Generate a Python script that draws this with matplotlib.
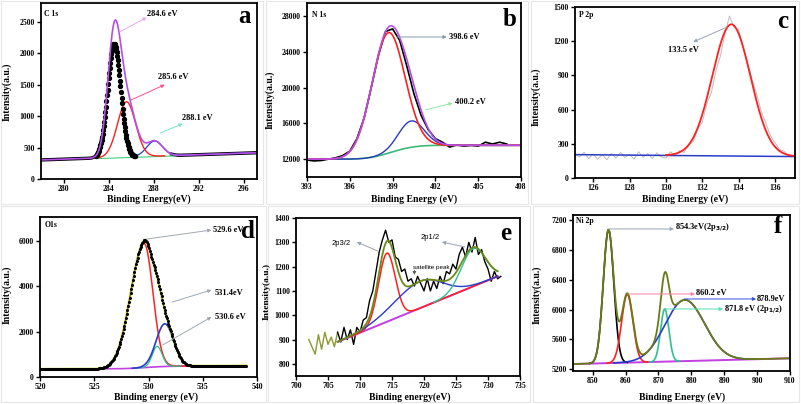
import numpy as np
import matplotlib
matplotlib.use('Agg')
import matplotlib.pyplot as plt
from matplotlib.patches import Rectangle

W, H = 801, 404

# ---------------- a : C 1s ----------------
c1s_xlim = (278.0, 297.2)
c1s_ylim = (0, 2800)
c1s_bg = (303, 418)                 # linear background at the two x limits
c1s_center = [284.5, 285.6, 288.1]
c1s_height = [1810, 880, 240]
c1s_sigma = [0.58, 0.8, 0.7]

# ---------------- b : N 1s ----------------
n1s_xlim = (393, 408)
n1s_ylim = (10000, 29500)
n1s_step = (12000, 13550)           # step background low / high side
n1s_center = [398.7, 400.3]
n1s_height = [13500, 2950]
n1s_sigma = [1.15, 0.9]
n1s_raw_x = [393, 393.5, 394, 394.5, 395, 395.5, 396, 396.5, 397, 397.5,
             398, 398.5, 399, 399.5, 400, 400.5, 401, 401.5, 402, 402.5,
             403, 403.5, 404, 404.5, 405, 405.5, 406, 406.5, 407]
n1s_raw_y = [11900, 11800, 11850, 12000, 12150, 12400, 12900, 14300, 16600, 20000,
             23600, 26300, 26600, 25300, 22400, 19300, 16900, 15300, 14300, 13900,
             13350, 13600, 13450, 13550, 13450, 13900, 13700, 13900, 13700]

# ---------------- c : P 2p ----------------
p2p_xlim = (125, 137.1)
p2p_ylim = (0, 1500)
p2p_bg = (205, 188)
p2p_center = 133.6
p2p_height = 1155
p2p_sigma = 1.05
p2p_raw_x = [125.0, 125.25, 125.5, 125.75, 126.0, 126.25, 126.5, 126.75, 127.0, 127.25,
             127.5, 127.75, 128.0, 128.25, 128.5, 128.75, 129.0, 129.25, 129.5, 129.75,
             130.0, 130.25, 130.5, 130.75, 131.0, 131.25, 131.5, 131.75, 132.0, 132.25,
             132.5, 132.75, 133.0, 133.25, 133.5, 133.75, 134.0, 134.25, 134.5, 134.75,
             135.0, 135.25, 135.5, 135.75, 136.0, 136.25, 136.5, 136.75, 137.0]
p2p_raw_y = [215, 185, 225, 170, 210, 165, 205, 160, 215, 175,
             225, 180, 210, 165, 230, 180, 215, 170, 220, 185,
             175, 230, 195, 240, 225, 290, 320, 430, 490, 650,
             750, 940, 1070, 1270, 1420, 1320, 1300, 1150, 1010, 860,
             730, 580, 480, 370, 310, 250, 235, 190, 200]

# ---------------- d : O 1s ----------------
o1s_xlim = (520, 540)
o1s_ylim = (0, 7050)
o1s_bg = (340, 3.0, 100)            # offset, slope per eV, step height
o1s_center = [529.6, 530.8, 531.5]
o1s_height = [5470, 900, 1880]
o1s_sigma_lo = [1.25, 0.45, 0.8]
o1s_sigma_hi = [0.8, 0.45, 0.8]

# ---------------- e : Fe 2p ----------------
fe_xlim = (700, 735)
fe_ylim = (750, 1400)
fe_base = ((706.5, 890), (731.5, 1160))
fe_center = [714.2, 719.5, 727.7]
fe_height = [282, 110, 155]
fe_sigma_lo = [1.3, 4.2, 1.9]
fe_sigma_hi = [1.3, 3.4, 1.9]
fe_raw_x = [702.0, 702.5, 703.0, 703.5, 704.0, 704.5, 705.0, 705.5, 706.0, 706.5,
            707.0, 707.5, 708.0, 708.5, 709.0, 709.5, 710.0, 710.5, 711.0, 711.5,
            712.0, 712.5, 713.0, 713.5, 714.0, 714.5, 715.0, 715.5, 716.0, 716.5,
            717.0, 717.5, 718.0, 718.5, 719.0, 719.5, 720.0, 720.5, 721.0, 721.5,
            722.0, 722.5, 723.0, 723.5, 724.0, 724.5, 725.0, 725.5, 726.0, 726.5,
            727.0, 727.5, 728.0, 728.5, 729.0, 729.5, 730.0, 730.5, 731.0, 731.5, 732.0]
fe_raw_y = [900, 870, 840, 920, 860, 930, 880, 910, 870, 930,
            890, 950, 900, 940, 880, 950, 930, 980, 990, 1060,
            1100, 1180, 1260, 1310, 1350, 1300, 1310, 1240, 1230, 1180,
            1190, 1140, 1150, 1120, 1160, 1130, 1100, 1150, 1100, 1140,
            1110, 1160, 1130, 1180, 1170, 1210, 1190, 1250, 1280, 1240,
            1300, 1260, 1320, 1250, 1270, 1220, 1190, 1140, 1180, 1150, 1160]

# ---------------- f : Ni 2p ----------------
ni_xlim = (844, 910)
ni_ylim = (5177, 7267)
ni_bg = (5270, 5347)
ni_center = [854.8, 860.5, 871.9, 878.0]
ni_height = [1785, 915, 705, 820]
ni_sigma = [1.6, 1.7, 1.25, 6.0]

SERIF = ['Liberation Serif', 'DejaVu Serif']
plt.rcParams['font.family'] = SERIF
plt.rcParams['font.weight'] = 'bold'
plt.rcParams['axes.linewidth'] = 1.3


def peak(x, c, h, s_lo, s_hi=None):
    s_hi = s_lo if s_hi is None else s_hi
    s = np.where(x < c, s_lo, s_hi)
    return h * np.exp(-0.5 * ((x - c) / s) ** 2)


def step_bg(total):
    cum = np.cumsum(total)
    return cum / cum[-1]


def add_ax(l, t, r, b):
    return fig.add_axes([l / W, 1 - b / H, (r - l) / W, (b - t) / H])


def style(ax, xlim, ylim, xticks, yticks):
    ax.set_xlim(*xlim)
    ax.set_ylim(*ylim)
    ax.set_xticks(xticks)
    ax.set_yticks(yticks)
    ax.tick_params(direction='out', length=3, width=1, labelsize=5.6, pad=1.5)
    for lab in ax.get_xticklabels() + ax.get_yticklabels():
        lab.set_fontweight('bold')


def arrow(ax, tail, head, color, lw=0.7):
    ax.annotate('', xy=head, xytext=tail,
                arrowprops=dict(arrowstyle='-|>', color=color, lw=lw,
                                mutation_scale=5, shrinkA=0, shrinkB=0))


def ftext(x, y, s, rot=0, size=7):
    fig.text(x / W, 1 - y / H, s, rotation=rot, ha='center', va='center',
             fontsize=size, fontweight='bold')


fig = plt.figure(figsize=(W / 100, H / 100), dpi=100)

# faint sub-figure frames
for (l, t, r, b) in [(1, 1, 263, 204), (266, 1, 528, 204), (531, 1, 799, 204),
                     (1, 206, 266, 402), (268, 206, 530, 402), (533, 206, 799, 402)]:
    fig.patches.append(Rectangle((l / W, 1 - b / H), (r - l) / W, (b - t) / H,
                                 transform=fig.transFigure, fill=False,
                                 ec='#e6e6e6', lw=0.8))

# ================= a =================
ax = add_ax(41, 3, 257, 179)
x = np.linspace(c1s_xlim[0], c1s_xlim[1], 800)
bg = c1s_bg[0] + (c1s_bg[1] - c1s_bg[0]) * (x - x[0]) / (x[-1] - x[0])
comps = [peak(x, c, h, s) for c, h, s in zip(c1s_center, c1s_height, c1s_sigma)]
env = bg + sum(comps)
ax.plot(x, np.where((x < 283.4) | (x > 289.6), env, np.nan), color='black', lw=2.4)
m = (x > 283) & (x < 290)
ax.plot(x[m], bg[m] - 8, color='#40d080', lw=0.8)
m = (x > 286) & (x < 297)
ax.plot(x[m], bg[m] + 2 + comps[2][m], color='#2040c0', lw=0.9)
m = (x > 283) & (x < 289)
ax.plot(x[m], bg[m] + comps[1][m], color='#ff2020', lw=1.0)
m = (x > 282.9) & (x < 286.4)
ax.plot(x[m][::2], (bg + comps[0])[m][::2], 'o', color='black', ms=2.8)
ax.plot(x, env, color='#b44fe6', lw=1.2)
style(ax, c1s_xlim, c1s_ylim, range(280, 297, 4), range(0, 2501, 500))
arrow(ax, (285.0, 2340), (287.4, 2570), '#e9a6f2')
arrow(ax, (286.0, 1257), (289.0, 1500), '#ff4f8f')
arrow(ax, (288.6, 732), (290.6, 880), '#78e4c4')
ax.text(287.4, 2625, '284.6 eV', fontsize=6, va='center')
ax.text(288.4, 1623, '285.6 eV', fontsize=6, va='center')
ax.text(290.5, 970, '288.1 eV', fontsize=6, va='center')
ax.text(296.1, 2590, 'a', fontsize=18, ha='center', va='center')
ax.text(278.3, 2620, 'C 1s', fontsize=5.5, va='center')
ftext(7, 92, 'Intensity(a.u.)', rot=90)
ftext(149, 199, 'Binding Energy(eV)')

# ================= b =================
ax = add_ax(307, 3, 521, 177)
x = np.linspace(n1s_xlim[0], n1s_xlim[1], 800)
comps = [peak(x, c, h, s) for c, h, s in zip(n1s_center, n1s_height, n1s_sigma)]
bg = n1s_step[0] + (n1s_step[1] - n1s_step[0]) * step_bg(sum(comps))
env = bg + sum(comps)
ax.plot(n1s_raw_x, n1s_raw_y, color='black', lw=1.2)
ax.plot(x, bg, color='#3cb878', lw=1.2)
ax.plot(x, bg + comps[1], color='#2a3cb8', lw=1.0)
ax.plot(x, bg + comps[0], color='#ff2020', lw=1.2)
ax.plot(x, env, color='#b44fe6', lw=1.2)
style(ax, n1s_xlim, n1s_ylim, range(393, 409, 3), range(12000, 28001, 4000))
arrow(ax, (399.3, 25690), (402.8, 25690), '#8a98a8')
arrow(ax, (401.3, 17510), (403.2, 18290), '#90eaa8')
ax.text(402.95, 25690, '398.6 eV', fontsize=6, va='center')
ax.text(403.4, 18405, '400.2 eV', fontsize=6, va='center')
ax.text(407.2, 27650, 'b', fontsize=18, ha='center', va='center')
ax.text(393.35, 28150, 'N 1s', fontsize=5.5, va='center')
ftext(270, 100, 'Intensity(a.u.)', rot=90)
ftext(414, 199, 'Binding Energy (eV)')

# ================= c =================
ax = add_ax(575, 7, 795, 178)
x = np.linspace(p2p_xlim[0], p2p_xlim[1], 800)
bg = p2p_bg[0] + (p2p_bg[1] - p2p_bg[0]) * (x - x[0]) / (x[-1] - x[0])
ax.plot(p2p_raw_x, p2p_raw_y, color='#bdbdbd', lw=0.7)
ax.plot(x, bg, color='#2a3cc8', lw=1.1)
m = x > 130
ax.plot(x[m], bg[m] + peak(x[m], p2p_center, p2p_height, p2p_sigma),
        color='#ff2020', lw=1.3)
style(ax, p2p_xlim, p2p_ylim, range(126, 137, 2), range(0, 1501, 300))
arrow(ax, (133.36, 1324), (131.5, 1193), '#9aa4b0')
ax.text(130.1, 1122, '133.5 eV', fontsize=6, va='center')
ax.text(136.4, 1370, 'c', fontsize=18, ha='center', va='center')
ax.text(125.2, 1430, 'P 2p', fontsize=5.5, va='center')
ftext(536, 97, 'Intensity(a.u.)', rot=90)
ftext(685, 199, 'Binding Energy (eV)')

# ================= d =================
ax = add_ax(40, 217, 257, 377)
x = np.linspace(o1s_xlim[0], 539, 800)
comps = [peak(x, c, h, a, b) for c, h, a, b in
         zip(o1s_center, o1s_height, o1s_sigma_lo, o1s_sigma_hi)]
bg = o1s_bg[0] + o1s_bg[1] * (x - x[0]) + o1s_bg[2] * step_bg(sum(comps))
env = bg + sum(comps)
ax.plot(x, bg, color='#c040e0', lw=1.2)
m = x > 527
ax.plot(x[m], bg[m] + comps[0][m], color='#ff2020', lw=1.1)
m = (x > 529) & (x < 533)
ax.plot(x[m], bg[m] + comps[1][m], color='#30c090', lw=0.9)
m = (x > 528.5) & (x < 535)
ax.plot(x[m], bg[m] + comps[2][m], color='#2a3cc8', lw=1.2)
ax.plot(x, env, color='#d8e860', lw=2.2, alpha=0.6)
ax.plot(x, env, color='#6b7a10', lw=0.9)
ax.plot(x[::3], env[::3], 'o', color='black', ms=1.2)
style(ax, (520, 540), o1s_ylim, range(520, 541, 5), range(0, 6001, 2000))
arrow(ax, (529.86, 6080), (535.8, 6477), '#a0a8b0')
arrow(ax, (532.2, 3305), (535.8, 3833), '#a0a8b0')
arrow(ax, (531.3, 1410), (535.8, 2644), '#a0a8b0')
ax.text(535.9, 6477, '529.6 eV', fontsize=6, va='center')
ax.text(536.1, 3700, '531.4eV', fontsize=6, va='center')
ax.text(536.1, 2644, '530.6 eV', fontsize=6, va='center')
ax.text(539.2, 6420, 'd', fontsize=18, ha='center', va='center')
ax.text(520.45, 6697, 'O1s', fontsize=5.5, va='center')
ftext(7, 295, 'Intensity(a.u.)', rot=90)
ftext(156, 397, 'Binding energy (eV)')

# ================= e =================
ax = add_ax(296, 218, 520, 376)
x = np.linspace(fe_base[0][0], fe_base[1][0], 800)
(x0, y0), (x1, y1) = fe_base
base = y0 + (y1 - y0) * (x - x0) / (x1 - x0)
comps = [peak(x, c, h, a, b) for c, h, a, b in
         zip(fe_center, fe_height, fe_sigma_lo, fe_sigma_hi)]
env = base + sum(comps)
rx = np.array(fe_raw_x)
ry = np.array(fe_raw_y)
ax.plot(rx[rx <= 706.5], ry[rx <= 706.5], color='#8a9a30', lw=1.0)
ax.plot(rx[rx >= 706.5], ry[rx >= 706.5], color='black', lw=1.0)
ax.plot(x, base, color='#c040e0', lw=1.4)
m = x > 708.5
ax.plot(x[m], base[m] + comps[0][m], color='#ff2020', lw=1.1)
m = x > 707.5
ax.plot(x[m], base[m] + comps[1][m], color='#2a3cc8', lw=1.0)
m = x > 721.5
ax.plot(x[m], base[m] + comps[2][m], color='#30c090', lw=1.0)
ax.plot(x, env, color='#6b8a18', lw=1.3)
style(ax, fe_xlim, fe_ylim, range(700, 736, 5), range(800, 1401, 100))
arrow(ax, (712.8, 1264), (709.5, 1301), '#9aa4b0')
arrow(ax, (726.4, 1281), (722.8, 1301), '#9aa4b0')
arrow(ax, (718.5, 1186), (718.5, 1166), '#555555', lw=0.5)
sans = ['Liberation Sans', 'DejaVu Sans']
ax.text(705.6, 1297, '2p3/2', fontsize=5.5, va='center', family=sans, fontweight='normal')
ax.text(719.5, 1318, '2p1/2', fontsize=5.5, va='center', family=sans, fontweight='normal')
ax.text(718.3, 1198, 'satellite peak', fontsize=4.5, va='center', family=sans,
        fontweight='normal')
ax.text(732.7, 1335, 'e', fontsize=18, ha='center', va='center')
ftext(267, 292, 'Intensity(a.u.)', rot=90, size=6.8)
ftext(410, 397, 'Binding energy(eV)')

# ================= f =================
ax = add_ax(573, 215, 790, 371)
x = np.linspace(ni_xlim[0], ni_xlim[1], 1200)
bg = ni_bg[0] + (ni_bg[1] - ni_bg[0]) * (x - x[0]) / (x[-1] - x[0])
comps = [peak(x, c, h, s) for c, h, s in zip(ni_center, ni_height, ni_sigma)]
env = bg + sum(comps)
ax.plot(x, bg, color='#c040e0', lw=1.4)
colors = ['black', '#ff2020', '#30c090', '#2a3cc8']
for comp, c, s, col in zip(comps, ni_center, ni_sigma, colors):
    m = (x > c - 3.6 * s) & (x < c + 3.6 * s)
    ax.plot(x[m], bg[m] + comp[m], color=col, lw=1.2)
ax.plot(x, env, color='#6b7a18', lw=1.3)
style(ax, ni_xlim, ni_ylim, range(850, 911, 10), range(5200, 7201, 400))
arrow(ax, (854.95, 7080), (874.7, 7080), '#9aa4b8')
arrow(ax, (860.7, 6209), (881.1, 6209), '#ff7fa0')
arrow(ax, (877.8, 6142), (899.7, 6142), '#3050e0')
arrow(ax, (872.0, 6008), (889.6, 6008), '#50e0b0')
ax.text(875.0, 7107, '854.3eV(2p$_{3/2}$)', fontsize=6, va='center')
ax.text(881.4, 6222, '860.2 eV', fontsize=6, va='center')
ax.text(900.0, 6142, '878.9eV', fontsize=6, va='center')
ax.text(889.9, 6000, '871.8 eV (2p$_{1/2}$)', fontsize=6, va='center')
ax.text(906.3, 7110, 'f', fontsize=18, ha='center', va='center')
ax.text(844.9, 7187, 'Ni 2p', fontsize=5.5, va='center')
ftext(537, 295, 'Intensity(a.u.)', rot=90)
ftext(682, 397, 'Binding Energy (eV)')

fig.savefig('out.png', dpi=100)
